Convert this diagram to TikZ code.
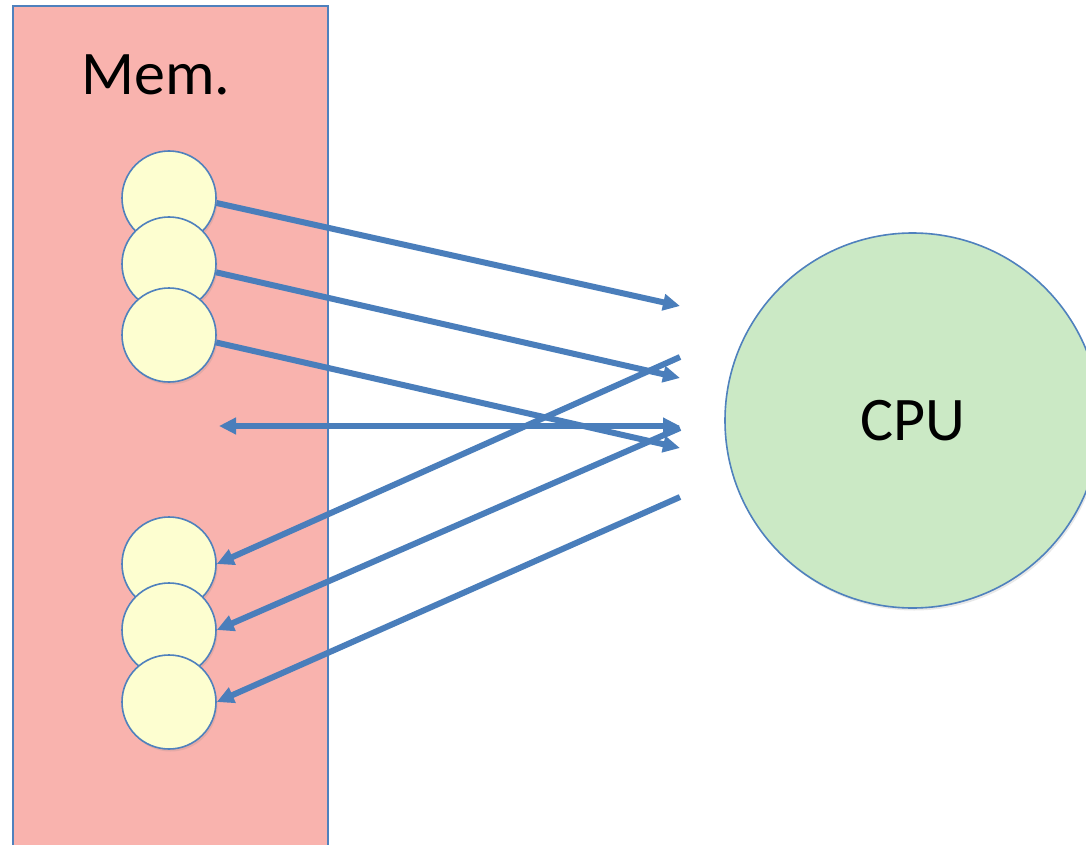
\documentclass[tikz,border=0pt]{standalone}
\usepackage{fontspec}
\setmainfont{Carlito}
\usetikzlibrary{arrows.meta,shadows}
\definecolor{memfill}{HTML}{F9B3AE}
\definecolor{cellfill}{HTML}{FDFED0}
\definecolor{cpufill}{HTML}{CBE9C5}
\definecolor{edgeblue}{HTML}{4F81BD}
\definecolor{wireblue}{HTML}{4A7EBB}
\tikzset{
  softshadow/.style={drop shadow={opacity=0.18, shadow xshift=1.5pt, shadow yshift=-2.5pt}},
  membox/.style={rectangle, draw=edgeblue, line width=1.6pt, fill=memfill, inner sep=0pt, softshadow},
  cell/.style={circle, draw=edgeblue, line width=1.6pt, fill=cellfill, minimum size=94pt, inner sep=0pt, softshadow},
  cpunode/.style={circle, draw=edgeblue, line width=1.6pt, fill=cpufill, minimum size=375pt, inner sep=0pt, softshadow, font=\fontsize{62}{70}\selectfont},
  bigtext/.style={font=\fontsize{62}{70}\selectfont, inner sep=0pt},
  tip/.tip={Triangle[length=17pt,width=16pt]},
  wire/.style={draw=wireblue, line width=6pt, -tip},
  twoway/.style={draw=wireblue, line width=6pt, tip-tip}
}
\begin{document}
\begin{tikzpicture}[x=1pt,y=-1pt]
  \clip (0,0) rectangle (1086,845);

  % memory bank
  \node[membox, minimum width=315pt, minimum height=870pt, anchor=north west] (mem) at (12,5.5) {};
  \node[bigtext] (memlabel) at (156,75) {Mem.};

  % memory cells, each one overlapping the one above it
  \node[cell] (c1) at (169,198) {};
  \node[cell] (c2) at (169,264) {};
  \node[cell] (c3) at (169,335) {};
  \node[cell] (c4) at (169,564) {};
  \node[cell] (c5) at (169,630) {};
  \node[cell] (c6) at (169,702) {};

  % processor
  \node[cpunode] (cpu) at (912.5,420.5) {CPU};

  % free ends of the connectors beside the processor
  \coordinate (r1) at (680,306);
  \coordinate (r2) at (680,378);
  \coordinate (r3) at (680,448);
  \coordinate (rh) at (680,426);
  \coordinate (lh) at (219,426);
  \coordinate (s5) at (680,357);
  \coordinate (s6) at (680,428);
  \coordinate (s7) at (680,497);

  % loads from memory
  \draw[wire] (c1.-6) -- (r1);
  \draw[wire] (c2.-10) -- (r2);
  \draw[wire] (c3.-9) -- (r3);

  % two-way transfer
  \draw[twoway] (lh) -- (rh);

  % stores to memory
  \draw[wire] (s5) -- (c4.east);
  \draw[wire] (s6) -- (c5.east);
  \draw[wire] (s7) -- (c6.east);
\end{tikzpicture}
\end{document}
